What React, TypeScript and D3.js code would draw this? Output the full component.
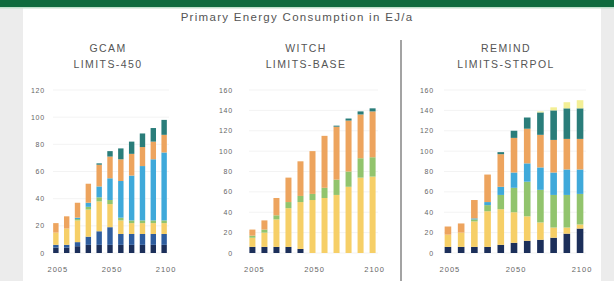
import * as d3 from "d3";
import React from "react";

const years = ["2005", "2010", "2020", "2030", "2040", "2050", "2060", "2070", "2080", "2090", "2100"];
const shownYears = ["2005", "2050", "2100"];

const seriesKeys = ["coal", "coalCcs", "oil", "biomass", "nuclear", "gas", "wind", "solar"];
const seriesColors = ["#1c2f5a", "#2f5d9e", "#f6cf67", "#92c46d", "#3fa9da", "#eda45e", "#2a7d7a", "#f3ef96"];

// GCAM LIMITS-450
const gcamCoal = [4, 4, 5, 6, 6, 6, 6, 6, 6, 6, 6];
const gcamCoalCcs = [2, 2, 3, 6, 10, 13, 8, 8, 8, 8, 8];
const gcamOil = [9, 12, 16, 20, 22, 17, 10, 8, 8, 8, 8];
const gcamBiomass = [0, 0, 1, 2, 3, 3, 2, 2, 2, 2, 2];
const gcamNuclear = [0, 0, 1, 3, 8, 16, 27, 33, 40, 45, 50];
const gcamGas = [7, 9, 11, 14, 16, 16, 16, 16, 14, 13, 13];
const gcamWind = [0, 0, 0, 0, 1, 4, 8, 9, 10, 10, 11];
const gcamSolar = [0, 0, 0, 0, 0, 0, 0, 0, 0, 0, 0];

// WITCH LIMITS-BASE
const witchCoal = [6, 6, 6, 6, 4, 0, 0, 0, 0, 0, 0];
const witchCoalCcs = [0, 0, 0, 0, 0, 0, 0, 0, 0, 0, 0];
const witchOil = [9, 14, 27, 38, 46, 52, 54, 57, 65, 74, 75];
const witchBiomass = [2, 3, 4, 6, 6, 6, 10, 15, 15, 19, 19];
const witchNuclear = [0, 0, 0, 0, 0, 0, 0, 0, 0, 0, 0];
const witchGas = [6, 9, 17, 24, 34, 42, 51, 52, 50, 43, 45];
const witchWind = [0, 0, 0, 0, 0, 0, 0, 1, 2, 3, 3];
const witchSolar = [0, 0, 0, 0, 0, 0, 0, 0, 0, 0, 0];

// REMIND LIMITS-STRPOL
const remindCoal = [6, 6, 6, 6, 8, 10, 12, 13, 15, 19, 24];
const remindCoalCcs = [0, 0, 0, 0, 0, 0, 0, 0, 0, 0, 0];
const remindOil = [12, 14, 25, 35, 35, 30, 24, 17, 10, 6, 4];
const remindBiomass = [0, 0, 2, 6, 14, 24, 34, 32, 32, 32, 30];
const remindNuclear = [0, 0, 1, 3, 8, 15, 18, 22, 22, 25, 24];
const remindGas = [8, 9, 18, 27, 32, 34, 34, 32, 32, 30, 30];
const remindWind = [0, 0, 0, 0, 2, 7, 11, 22, 29, 30, 30];
const remindSolar = [0, 0, 0, 0, 0, 0, 0, 1, 3, 6, 8];

const gcamTicks = [0, 20, 40, 60, 80, 100, 120];
const bigTicks = [0, 20, 40, 60, 80, 100, 120, 140, 160];

const buildRows = (cols: number[][]) =>
  years.map((y, i) => {
    const row: Record<string, number | string> = { year: y };
    seriesKeys.forEach((k, j) => (row[k] = cols[j][i]));
    return row;
  });

const panels = [
  {
    model: "GCAM",
    scenario: "LIMITS-450",
    rows: buildRows([gcamCoal, gcamCoalCcs, gcamOil, gcamBiomass, gcamNuclear, gcamGas, gcamWind, gcamSolar]),
    ticks: gcamTicks,
    x0: 51,
    x1: 169,
    labelX: 45,
    titleX: 108,
  },
  {
    model: "WITCH",
    scenario: "LIMITS-BASE",
    rows: buildRows([witchCoal, witchCoalCcs, witchOil, witchBiomass, witchNuclear, witchGas, witchWind, witchSolar]),
    ticks: bigTicks,
    x0: 247,
    x1: 378,
    labelX: 233,
    titleX: 306,
  },
  {
    model: "REMIND",
    scenario: "LIMITS-STRPOL",
    rows: buildRows([remindCoal, remindCoalCcs, remindOil, remindBiomass, remindNuclear, remindGas, remindWind, remindSolar]),
    ticks: bigTicks,
    x0: 442,
    x1: 586,
    labelX: 434,
    titleX: 506,
  },
];

const W = 614;
const H = 281;
const yTop = 90;
const yBottom = 253;
const font = "'Liberation Sans', Arial, sans-serif";

const Panel = ({ p }: { p: (typeof panels)[number] }) => {
  const x = d3.scaleBand<string>().domain(years).range([p.x0, p.x1]).paddingInner(0.5).paddingOuter(0.2);
  const y = d3
    .scaleLinear()
    .domain([0, p.ticks[p.ticks.length - 1]])
    .range([yBottom, yTop]);
  const stack = d3.stack<Record<string, number | string>>().keys(seriesKeys);
  const layers = stack(p.rows as any);

  return (
    <g>
      <text x={p.titleX} y={52} textAnchor="middle" fontSize={10.5} fill="#555" letterSpacing={1.4}>
        {p.model}
      </text>
      <text x={p.titleX} y={68} textAnchor="middle" fontSize={10.5} fill="#555" letterSpacing={1.4}>
        {p.scenario}
      </text>
      {p.ticks.map((t) => (
        <g key={t}>
          <line x1={p.x0 + 2} x2={p.x1} y1={y(t)} y2={y(t)} stroke="#f3f3f3" strokeWidth={1} />
          <text x={p.labelX} y={y(t) + 2.5} textAnchor="end" fontSize={7} fill="#666" letterSpacing={0.8}>
            {t}
          </text>
        </g>
      ))}
      {layers.map((layer, li) => (
        <g key={seriesKeys[li]} fill={seriesColors[li]}>
          {layer.map((d, i) =>
            d[1] - d[0] > 0 ? (
              <rect
                key={i}
                x={x(years[i])}
                y={y(d[1])}
                width={x.bandwidth()}
                height={y(d[0]) - y(d[1])}
              />
            ) : null
          )}
        </g>
      ))}
      {shownYears.map((yr) => (
        <text
          key={yr}
          x={(x(yr) ?? 0) + x.bandwidth() / 2 + 2}
          y={272}
          textAnchor="middle"
          fontSize={7.5}
          fill="#666"
          letterSpacing={1}
        >
          {yr}
        </text>
      ))}
    </g>
  );
};

export default function App() {
  return (
    <div style={{ position: "fixed", left: 0, top: 0, width: W, height: H }}>
      <svg width={W} height={H} style={{ display: "block", fontFamily: font }}>
        <rect x={0} y={0} width={W} height={H} fill="#ececec" />
        <rect x={23} y={8} width={578} height={H - 8} fill="#ffffff" />
        <rect x={0} y={0} width={W} height={7} fill="#0f6b3e" />
        <rect x={0} y={7} width={W} height={1.5} fill="#bfe0cc" />
        <text x={297} y={21} textAnchor="middle" fontSize={11.5} fill="#555" letterSpacing={1.3}>
          Primary Energy Consumption in EJ/a
        </text>
        <line x1={401} x2={401} y1={40} y2={H} stroke="#666" strokeWidth={1.2} />
        {panels.map((p) => (
          <Panel key={p.model} p={p} />
        ))}
      </svg>
    </div>
  );
}
